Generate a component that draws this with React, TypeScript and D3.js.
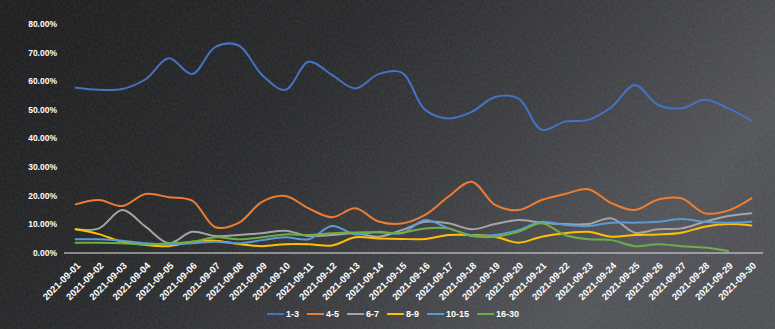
import React, { useEffect, useRef } from "react";
import * as d3 from "d3";

const dates = Array.from({ length: 30 }, (_, i) => `2021-09-${String(i + 1).padStart(2, "0")}`);
const seriesNames = ["1-3", "4-5", "6-7", "8-9", "10-15", "16-30"];
const colors = ["#4472C4", "#ED7D31", "#A5A5A5", "#FFC000", "#5B9BD5", "#70AD47"];
const yTicks = [0, 10, 20, 30, 40, 50, 60, 70, 80];

const s1_3 = [57.7, 57, 57.3, 60.7, 68, 62.5, 72, 72.5, 62.2, 57, 66.8, 62.2, 57.5, 62.5, 63, 50, 47, 49.3, 54.5, 54, 43, 45.9, 46.5, 51, 58.7, 51.7, 50.6, 53.5, 50.6, 46.2];
const s4_5 = [17.0, 18.5, 16.4, 20.6, 19.5, 18.3, 9.0, 10.5, 17.9, 19.9, 15.6, 12.5, 15.6, 11.0, 10.3, 13.3, 19.7, 24.9, 16.8, 15.0, 18.5, 20.6, 22.3, 17.4, 15.0, 18.7, 19.1, 13.9, 14.8, 19.1];
const s6_7 = [8.3, 8.6, 15.0, 9.2, 3.4, 7.4, 5.9, 6.3, 6.9, 7.8, 5.9, 6.3, 6.9, 5.7, 8.0, 10.9, 10.4, 8.3, 10.1, 11.5, 10.6, 10.1, 10.1, 12.1, 7.1, 8.3, 8.6, 10.9, 12.9, 13.9];
const s8_9 = [8.3, 6.6, 3.9, 2.8, 2.4, 3.9, 4.3, 3.1, 2.4, 3.1, 3.1, 2.6, 5.5, 5.1, 4.9, 4.9, 6.3, 6.3, 5.7, 3.6, 5.7, 6.9, 7.4, 5.7, 6.3, 6.5, 7.1, 9.2, 10.1, 9.6];
const s10_15 = [4.8, 4.8, 4.3, 3.4, 3.1, 3.4, 3.9, 3.4, 4.5, 5.5, 4.8, 9.4, 6.5, 7.4, 6.9, 11.5, 8.6, 6.3, 6.3, 8.0, 10.9, 9.8, 9.4, 10.6, 10.6, 10.9, 11.9, 10.9, 10.6, 10.9];
const s16_30: (number | null)[] = [3.6, 3.6, 3.4, 3.0, 3.4, 3.9, 5.5, 4.8, 5.5, 6.5, 6.3, 6.9, 7.2, 7.2, 7.1, 8.6, 8.6, 5.9, 5.7, 7.4, 10.4, 6.3, 4.8, 4.5, 2.4, 3.1, 2.4, 1.9, 0.7, null];

const allSeries = [s1_3, s4_5, s6_7, s8_9, s10_15, s16_30];

const W = 775;
const H = 329;
const FONT = "'Liberation Sans', Arial, sans-serif";

export default function App() {
  const ref = useRef<SVGSVGElement>(null);

  useEffect(() => {
    const svg = d3.select(ref.current);
    svg.selectAll("*").remove();

    const defs = svg.append("defs");
    const grad = defs.append("linearGradient").attr("id", "bg").attr("x1", 0).attr("y1", 0.2).attr("x2", 1).attr("y2", 0.6);
    grad.append("stop").attr("offset", 0).attr("stop-color", "#1a1a1c");
    grad.append("stop").attr("offset", 0.35).attr("stop-color", "#242527");
    grad.append("stop").attr("offset", 0.65).attr("stop-color", "#3a3b3f");
    grad.append("stop").attr("offset", 0.9).attr("stop-color", "#4f5156");
    grad.append("stop").attr("offset", 1).attr("stop-color", "#4b4d52");

    const filt = defs.append("filter").attr("id", "noise").attr("x", 0).attr("y", 0).attr("width", "100%").attr("height", "100%");
    filt.append("feTurbulence").attr("type", "fractalNoise").attr("baseFrequency", "0.5 0.35").attr("numOctaves", 3).attr("seed", 3).attr("result", "t");
    filt.append("feColorMatrix").attr("type", "matrix").attr("values", "0 0 0 0 1  0 0 0 0 1  0 0 0 0 1  0 0 0 0.09 0");

    svg.append("rect").attr("width", W).attr("height", H).attr("fill", "url(#bg)");
    svg.append("rect").attr("width", W).attr("height", H).attr("filter", "url(#noise)");

    const x = d3.scaleBand<string>().domain(dates).range([64, 763]);
    const y = d3.scaleLinear().domain([0, 80]).range([253, 24]);
    const cx = (d: string) => (x(d) as number) + x.bandwidth() / 2;

    svg.append("g")
      .selectAll("text")
      .data(yTicks)
      .join("text")
      .attr("x", 57)
      .attr("y", (d) => y(d))
      .attr("dy", "0.35em")
      .attr("text-anchor", "end")
      .attr("fill", "#ffffff")
      .attr("font-family", FONT)
      .attr("font-weight", "bold")
      .attr("font-size", 8.5)
      .text((d) => `${d.toFixed(2)}%`);

    svg.append("line")
      .attr("x1", 64).attr("x2", 763)
      .attr("y1", y(0)).attr("y2", y(0))
      .attr("stroke", "#e6e6e6").attr("stroke-width", 1);

    svg.append("g")
      .selectAll("text")
      .data(dates)
      .join("text")
      .attr("transform", (d) => `translate(${cx(d) + 3},${y(0) + 11}) rotate(-45)`)
      .attr("dy", "0.35em")
      .attr("text-anchor", "end")
      .attr("fill", "#ffffff")
      .attr("font-family", FONT)
      .attr("font-weight", "bold")
      .attr("font-size", 9.5)
      .text((d) => d);

    const line = d3.line<number | null>()
      .defined((d) => d !== null)
      .x((_, i) => cx(dates[i]))
      .y((d) => y(d as number))
      .curve(d3.curveCatmullRom.alpha(0.5));

    allSeries.forEach((s, k) => {
      svg.append("path")
        .datum(s as (number | null)[])
        .attr("d", line)
        .attr("fill", "none")
        .attr("stroke", colors[k])
        .attr("stroke-width", 2)
        .attr("stroke-linejoin", "round")
        .attr("stroke-linecap", "round");
    });

    const lg = svg.append("g");
    let lx = 267;
    const ly = 314;
    seriesNames.forEach((name, k) => {
      lg.append("line")
        .attr("x1", lx).attr("x2", lx + 17)
        .attr("y1", ly).attr("y2", ly)
        .attr("stroke", colors[k]).attr("stroke-width", 2);
      const t = lg.append("text")
        .attr("x", lx + 19)
        .attr("y", ly)
        .attr("dy", "0.35em")
        .attr("fill", "#ffffff")
        .attr("font-family", FONT)
        .attr("font-weight", "bold")
        .attr("font-size", 9)
        .text(name);
      const tw = (t.node() as SVGTextElement).getComputedTextLength();
      lx += 19 + tw + 8;
    });
  }, []);

  return (
    <div style={{ position: "fixed", left: 0, top: 0, width: W, height: H }}>
      <svg ref={ref} width={W} height={H} style={{ display: "block" }} />
    </div>
  );
}
